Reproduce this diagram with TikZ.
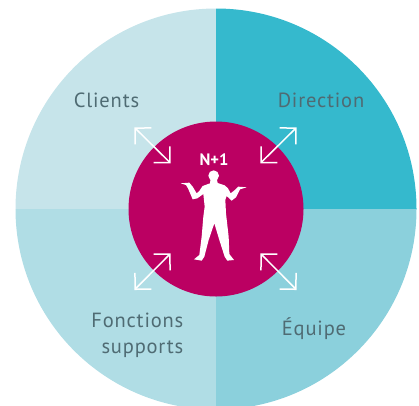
\documentclass[tikz,border=0pt]{standalone}
\usepackage{fontspec}
\setmainfont{PT Sans}[LetterSpace=4]
\newfontfamily\plainfont{PT Sans}
\usetikzlibrary{arrows.meta}
\definecolor{qnw}{HTML}{C6E4EA}
\definecolor{qne}{HTML}{35B9CD}
\definecolor{qsw}{HTML}{B0DDE5}
\definecolor{qse}{HTML}{8BD0DC}
\definecolor{hub}{HTML}{BB0062}
\definecolor{lbl}{HTML}{4F6B73}
\tikzset{
  lab/.style={text=lbl,font=\fontsize{20.5pt}{26pt}\selectfont,inner sep=0pt},
  dbl/.style={white,line width=1.5pt,{Straight Barb[length=11.5pt,width=23pt,line width=1.5pt]}-{Straight Barb[length=11.5pt,width=23pt,line width=1.5pt]}},
}
\begin{document}
\begin{tikzpicture}[x=1pt,y=-1pt]
\useasboundingbox (0,0) rectangle (419,405);
\clip (0,0) rectangle (419,405);
\coordinate (c) at (216,209);
\fill[qnw] (c) -- (216,8.5) arc[start angle=90,end angle=180,x radius=200.5,y radius=-200.5] -- cycle;
\fill[qne] (c) -- (216,8.5) arc[start angle=90,end angle=0,x radius=200.5,y radius=-200.5] -- cycle;
\fill[qsw] (c) -- (15.5,209) arc[start angle=180,end angle=270,x radius=200.5,y radius=-200.5] -- cycle;
\fill[qse] (c) -- (416.5,209) arc[start angle=0,end angle=-90,x radius=200.5,y radius=-200.5] -- cycle;
\node[circle,fill=hub,minimum size=175pt,inner sep=0pt] (hubc) at (c) {};
\node[lab] (clients) at (106.5,100) {Clients};
\node[lab] (direction) at (321,100) {Direction};
\node[lab,align=right,anchor=east] (fonctions) at (183.5,335) {Fonctions\\supports};
\node[lab] (equipe) at (314,328.5) {Équipe};
\node[text=white,font=\plainfont\bfseries\fontsize{16.5pt}{18pt}\selectfont,inner sep=0pt] (n1) at (214,160) {N+1};
\coordinate (nwa) at (134.3,127.3); \coordinate (nwb) at (170.7,163.3);
\coordinate (nea) at (296.7,127.3); \coordinate (neb) at (260.3,163.3);
\coordinate (swa) at (134.3,290); \coordinate (swb) at (170.7,253.3);
\coordinate (sea) at (296.7,290); \coordinate (seb) at (260.3,253.3);
\draw[dbl] (nwa) -- (nwb);
\draw[dbl] (nea) -- (neb);
\draw[dbl] (swa) -- (swb);
\draw[dbl] (sea) -- (seb);
\begin{scope}[shift={(120,110)},x=0.3333pt,y=-0.3333pt]
\fill[white] (281,197) circle[radius=16];
\fill[white,line join=round] (272,205) -- (270,220) -- (248,228) -- (238,243) -- (230,250) -- (218,230) -- (208,218) -- (182,220) -- (198,225) -- (204,235) -- (218,268) -- (232,265) -- (250,252) -- (254,290) -- (250,320) -- (245,380) -- (238,435) -- (222,448) -- (245,452) -- (253,440) -- (266,390) -- (283,340) -- (298,390) -- (314,440) -- (322,452) -- (342,450) -- (328,432) -- (326,380) -- (318,310) -- (316,270) -- (320,258) -- (335,272) -- (348,262) -- (360,238) -- (380,232) -- (355,230) -- (347,238) -- (332,250) -- (324,235) -- (314,226) -- (293,219) -- (290,205) -- cycle;
\end{scope}
\end{tikzpicture}
\end{document}
